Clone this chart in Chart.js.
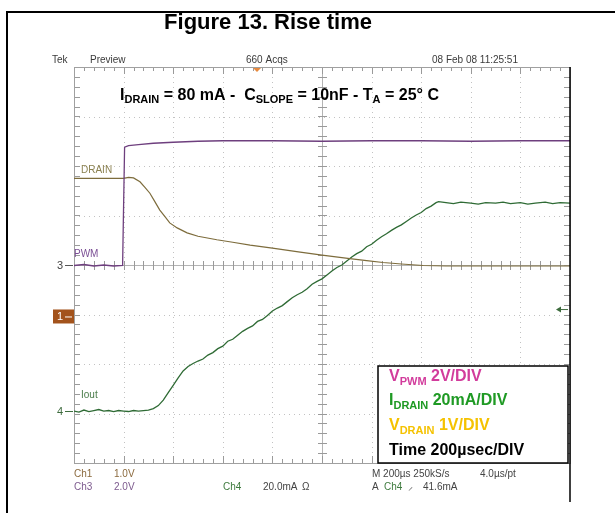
<!DOCTYPE html>
<html>
<head>
<meta charset="utf-8">
<script src="https://cdn.jsdelivr.net/npm/chart.js@4.4.1/dist/chart.umd.min.js"></script>
<style>
  body { margin: 0; background: #ffffff; }
  #wrap { width: 615px; height: 513px; position: relative; }
</style>
</head>
<body>
<div id="wrap"><canvas id="scopeChart"></canvas></div>
<script>

// time in divisions (200 µs/div), levels in divisions from the bottom of the screen
const pwmTime =
    [0, 0.2, 0.4, 0.6, 0.8, 0.98, 1.0, 1.02, 1.1, 1.3, 1.6, 2.0, 2.5, 3.0, 4.0, 5.0, 6.0, 7.0, 8.0, 9.0, 10.0];
const pwmLevel =
    [3.99, 4.01, 3.98, 4.0, 3.98, 3.99, 5.2, 6.38, 6.41, 6.43, 6.46, 6.48, 6.50, 6.51, 6.51, 6.50, 6.51, 6.51, 6.50, 6.51, 6.51];

const drainTime =
    [0, 0.5, 1.0, 1.1, 1.2, 1.33, 1.43, 1.53, 1.63, 1.73, 1.83, 1.93, 2.08, 2.28, 2.5, 2.88, 3.2, 3.55, 4.0, 4.56, 5.0, 5.56, 5.9, 6.23, 6.6, 7.04, 7.5, 8.0, 9.0, 10.0];
const drainLevel =
    [5.75, 5.75, 5.75, 5.77, 5.76, 5.68, 5.57, 5.45, 5.28, 5.11, 4.98, 4.85, 4.75, 4.65, 4.58, 4.51, 4.46, 4.40, 4.34, 4.26, 4.20, 4.13, 4.09, 4.05, 4.02, 3.99, 3.98, 3.98, 3.98, 3.98];

const ioutTime =
    [0, 0.1, 0.2, 0.3, 0.4, 0.5, 0.6, 0.7, 0.8, 0.9, 1.0, 1.1, 1.2, 1.3, 1.4, 1.5,
     1.6, 1.7, 1.8, 1.9, 2.0, 2.1, 2.2, 2.3, 2.4, 2.5, 2.6, 2.7, 2.8, 2.9, 3.0, 3.1, 3.2, 3.3, 3.4, 3.5, 3.6, 3.7, 3.8, 3.9,
     4.0, 4.1, 4.2, 4.3, 4.4, 4.5, 4.6, 4.7, 4.8, 4.9, 5.0, 5.1, 5.2, 5.3, 5.4, 5.5, 5.6, 5.7, 5.8, 5.9,
     6.0, 6.1, 6.2, 6.3, 6.4, 6.5, 6.6, 6.7, 6.8, 6.9, 7.0, 7.1, 7.2, 7.3, 7.35,
     7.5, 7.65, 7.8, 8.0, 8.15, 8.3, 8.5, 8.65, 8.8, 9.0, 9.15, 9.3, 9.5, 9.65, 9.8, 10.0];
const ioutLevel =
    [1.05, 1.03, 1.07, 1.04, 1.06, 1.08, 1.05, 1.06, 1.04, 1.06, 1.05, 1.04, 1.06, 1.05, 1.06, 1.07,
     1.10, 1.16, 1.27, 1.42, 1.57, 1.72, 1.86, 1.95, 2.01, 2.06, 2.10, 2.18, 2.23, 2.31, 2.36, 2.46, 2.50, 2.58, 2.66, 2.72, 2.77, 2.86, 2.90, 2.98,
     3.07, 3.13, 3.18, 3.26, 3.34, 3.40, 3.45, 3.52, 3.61, 3.67, 3.72, 3.80, 3.88, 3.95, 4.00, 4.08, 4.16, 4.23, 4.28, 4.37,
     4.42, 4.50, 4.57, 4.63, 4.70, 4.76, 4.81, 4.88, 4.95, 5.01, 5.06, 5.14, 5.19, 5.26, 5.28,
     5.26, 5.24, 5.27, 5.25, 5.23, 5.26, 5.25, 5.27, 5.24, 5.26, 5.23, 5.25, 5.27, 5.24, 5.26, 5.25];

const xDivisions = 10;
const yDivisions = 8;

const FONT = "'Liberation Sans', Arial, sans-serif";

function toPoints(xs, ys) {
    return xs.map((x, i) => ({ x: x, y: ys[i] }));
}

function drawRuns(ctx, x, y, runs) {
    let cx = x;
    runs.forEach(r => {
        ctx.font = r.font;
        ctx.fillStyle = r.color;
        ctx.fillText(r.t, cx, y + (r.dy || 0));
        cx += ctx.measureText(r.t).width;
    });
}

const scopePlugin = {
    id: 'scopeFrame',

    beforeDatasetsDraw(chart) {
        const ctx = chart.ctx;
        const xs = chart.scales.x;
        const ys = chart.scales.y;
        const left = xs.getPixelForValue(0);
        const right = xs.getPixelForValue(xDivisions);
        const top = ys.getPixelForValue(yDivisions);
        const bottom = ys.getPixelForValue(0);
        const cx = xs.getPixelForValue(xDivisions / 2);
        const cy = ys.getPixelForValue(yDivisions / 2);

        ctx.save();

        // dotted grid
        ctx.strokeStyle = '#c2c2c2';
        ctx.lineWidth = 1;
        ctx.setLineDash([1, 4]);
        for (let i = 1; i < xDivisions; i++) {
            if (i === xDivisions / 2) continue;
            const px = Math.round(xs.getPixelForValue(i)) + 0.5;
            ctx.beginPath();
            ctx.moveTo(px, top);
            ctx.lineTo(px, bottom);
            ctx.stroke();
        }
        for (let j = 1; j < yDivisions; j++) {
            if (j === yDivisions / 2) continue;
            const py = Math.round(ys.getPixelForValue(j)) + 0.5;
            ctx.beginPath();
            ctx.moveTo(left, py);
            ctx.lineTo(right, py);
            ctx.stroke();
        }
        ctx.setLineDash([]);

        // centre cross
        ctx.strokeStyle = '#b4b4b4';
        ctx.beginPath();
        ctx.moveTo(Math.round(cx) + 0.5, top);
        ctx.lineTo(Math.round(cx) + 0.5, bottom);
        ctx.moveTo(left, Math.round(cy) + 0.5);
        ctx.lineTo(right, Math.round(cy) + 0.5);
        ctx.stroke();

        // minor ticks
        ctx.strokeStyle = '#9a9a9a';
        ctx.beginPath();
        for (let v = 0; v <= xDivisions + 0.001; v += 0.2) {
            const px = Math.round(xs.getPixelForValue(v)) + 0.5;
            const major = Math.abs(v - Math.round(v)) < 0.01;
            ctx.moveTo(px, top);
            ctx.lineTo(px, top + (major ? 7 : 4));
            ctx.moveTo(px, bottom);
            ctx.lineTo(px, bottom - (major ? 7 : 4));
            ctx.moveTo(px, cy - 4);
            ctx.lineTo(px, cy + 5);
        }
        for (let v = 0; v <= yDivisions + 0.001; v += 0.2) {
            const py = Math.round(ys.getPixelForValue(v)) + 0.5;
            ctx.moveTo(left, py);
            ctx.lineTo(left + 6, py);
            ctx.moveTo(right, py);
            ctx.lineTo(right - 6, py);
            ctx.moveTo(cx - 4, py);
            ctx.lineTo(cx + 5, py);
        }
        ctx.stroke();

        // graticule border
        ctx.strokeStyle = '#a0a0a0';
        ctx.strokeRect(Math.round(left) + 0.5, Math.round(top) + 0.5, right - left, bottom - top);

        ctx.restore();
    },

    afterDraw(chart) {
        const ctx = chart.ctx;
        const xs = chart.scales.x;
        const ys = chart.scales.y;
        const right = xs.getPixelForValue(xDivisions);
        const top = ys.getPixelForValue(yDivisions);

        ctx.save();

        // document frame
        ctx.strokeStyle = '#000000';
        ctx.lineWidth = 2;
        ctx.beginPath();
        ctx.moveTo(7, 12);
        ctx.lineTo(615, 12);
        ctx.moveTo(7, 11);
        ctx.lineTo(7, 513);
        ctx.stroke();
        ctx.lineWidth = 1.5;
        ctx.beginPath();
        ctx.moveTo(right, top);
        ctx.lineTo(right, 502);
        ctx.stroke();

        // title
        ctx.textAlign = 'center';
        ctx.textBaseline = 'alphabetic';
        ctx.fillStyle = '#000000';
        ctx.font = 'bold 22px ' + FONT;
        ctx.fillText('Figure 13. Rise time', 268, 29);

        // scope header
        ctx.textAlign = 'left';
        ctx.font = '10px ' + FONT;
        ctx.fillStyle = '#3a3a3a';
        ctx.fillText('Tek', 52, 63);
        ctx.fillText('Preview', 90, 63);
        ctx.fillText('660 Acqs', 246, 63);
        ctx.fillText('08 Feb 08 11:25:51', 432, 63);

        // trigger position marker
        ctx.fillStyle = '#e8893c';
        ctx.beginPath();
        ctx.moveTo(253, top + 1);
        ctx.lineTo(261, top + 1);
        ctx.lineTo(257, top + 5);
        ctx.closePath();
        ctx.fill();

        // conditions line
        const big = 'bold 16px ' + FONT;
        const sub = 'bold 11px ' + FONT;
        drawRuns(ctx, 120, 100, [
            { t: 'I', font: big, color: '#000' },
            { t: 'DRAIN', font: sub, color: '#000', dy: 3 },
            { t: ' = 80 mA -  C', font: big, color: '#000' },
            { t: 'SLOPE', font: sub, color: '#000', dy: 3 },
            { t: ' = 10nF - T', font: big, color: '#000' },
            { t: 'A', font: sub, color: '#000', dy: 3 },
            { t: ' = 25° C', font: big, color: '#000' }
        ]);

        // trace labels
        ctx.font = '10px ' + FONT;
        ctx.fillStyle = '#8a8050';
        ctx.fillText('DRAIN', 81, 173);
        ctx.fillStyle = '#7b4f95';
        ctx.fillText('PWM', 74, 257);
        ctx.fillStyle = '#4b7d4b';
        ctx.fillText('Iout', 81, 398);

        // channel ground markers
        const cy3 = ys.getPixelForValue(4.0);
        const cy1 = ys.getPixelForValue(2.96);
        const cy4 = ys.getPixelForValue(1.05);
        ctx.font = '11px ' + FONT;
        ctx.fillStyle = '#444';
        ctx.fillText('3', 57, cy3 + 4);
        ctx.fillStyle = '#3d6b3d';
        ctx.fillText('4', 57, cy4 + 4);
        ctx.strokeStyle = '#555';
        ctx.lineWidth = 1;
        ctx.beginPath();
        ctx.moveTo(65, cy3 + 0.5);
        ctx.lineTo(73, cy3 + 0.5);
        ctx.stroke();
        ctx.strokeStyle = '#3d6b3d';
        ctx.beginPath();
        ctx.moveTo(65, cy4 + 0.5);
        ctx.lineTo(73, cy4 + 0.5);
        ctx.stroke();
        ctx.fillStyle = '#a3531c';
        ctx.fillRect(53, cy1 - 7, 21, 14);
        ctx.fillStyle = '#ffffff';
        ctx.fillText('1', 57, cy1 + 4);
        ctx.strokeStyle = '#ffffff';
        ctx.beginPath();
        ctx.moveTo(65, cy1 + 0.5);
        ctx.lineTo(72, cy1 + 0.5);
        ctx.stroke();

        // trigger level arrow on the right
        const trigY = ys.getPixelForValue(3.1);
        ctx.strokeStyle = '#3d6b3d';
        ctx.fillStyle = '#3d6b3d';
        ctx.beginPath();
        ctx.moveTo(557, trigY);
        ctx.lineTo(568, trigY);
        ctx.stroke();
        ctx.beginPath();
        ctx.moveTo(556, trigY);
        ctx.lineTo(561, trigY - 3);
        ctx.lineTo(561, trigY + 3);
        ctx.closePath();
        ctx.fill();

        // readouts
        ctx.font = '10px ' + FONT;
        ctx.fillStyle = '#8b6a3e';
        ctx.fillText('Ch1', 74, 477);
        ctx.fillText('1.0V', 114, 477);
        ctx.fillStyle = '#7d5a8e';
        ctx.fillText('Ch3', 74, 490);
        ctx.fillText('2.0V', 114, 490);
        ctx.fillStyle = '#3d7a3d';
        ctx.fillText('Ch4', 223, 490);
        ctx.fillStyle = '#444';
        ctx.fillText('20.0mA', 263, 490);
        ctx.fillText('Ω', 302, 490);
        ctx.fillText('M 200µs 250kS/s', 372, 477);
        ctx.fillText('4.0µs/pt', 480, 477);
        ctx.fillText('A', 372, 490);
        ctx.fillStyle = '#3d7a3d';
        ctx.fillText('Ch4', 384, 490);
        ctx.fillStyle = '#444';
        ctx.fillText('⸝', 408, 490);
        ctx.fillText('41.6mA', 423, 490);

        // scale legend box
        ctx.fillStyle = '#ffffff';
        ctx.fillRect(378, 366, 190, 97);
        ctx.strokeStyle = '#000';
        ctx.lineWidth = 1.5;
        ctx.strokeRect(378, 366, 190, 97);

        const lg = 'bold 16px ' + FONT;
        const ls = 'bold 11px ' + FONT;
        drawRuns(ctx, 389, 381, [
            { t: 'V', font: lg, color: '#d23c9c' },
            { t: 'PWM', font: ls, color: '#d23c9c', dy: 4 },
            { t: ' 2V/DIV', font: lg, color: '#d23c9c' }
        ]);
        drawRuns(ctx, 389, 405, [
            { t: 'I', font: lg, color: '#1f9a24' },
            { t: 'DRAIN', font: ls, color: '#1f9a24', dy: 4 },
            { t: ' 20mA/DIV', font: lg, color: '#1f9a24' }
        ]);
        drawRuns(ctx, 389, 430, [
            { t: 'V', font: lg, color: '#f5c200' },
            { t: 'DRAIN', font: ls, color: '#f5c200', dy: 4 },
            { t: ' 1V/DIV', font: lg, color: '#f5c200' }
        ]);
        drawRuns(ctx, 389, 455, [
            { t: 'Time 200µsec/DIV', font: lg, color: '#000' }
        ]);

        ctx.restore();
    }
};

new Chart(document.getElementById('scopeChart'), {

    type: 'line',

    data: {
        datasets: [
            {
                label: 'PWM',
                data: toPoints(pwmTime, pwmLevel),
                borderColor: '#6e3f7e',
                borderWidth: 1.3
            },
            {
                label: 'DRAIN',
                data: toPoints(drainTime, drainLevel),
                borderColor: '#7d6c3c',
                borderWidth: 1.2
            },
            {
                label: 'Iout',
                data: toPoints(ioutTime, ioutLevel),
                borderColor: '#2f6b35',
                borderWidth: 1.3
            }
        ]
    },

    options: {
        responsive: true,
        maintainAspectRatio: false,
        animation: false,
        layout: {
            padding: { left: 74, top: 67, right: 45, bottom: 50 }
        },
        elements: {
            point: { radius: 0 },
            line: { tension: 0 }
        },
        plugins: {
            legend: { display: false },
            tooltip: { enabled: false }
        },
        scales: {
            x: { type: 'linear', min: 0, max: xDivisions, display: false },
            y: { type: 'linear', min: 0, max: yDivisions, display: false }
        }
    },

    plugins: [scopePlugin]

});
</script>
</body>
</html>
